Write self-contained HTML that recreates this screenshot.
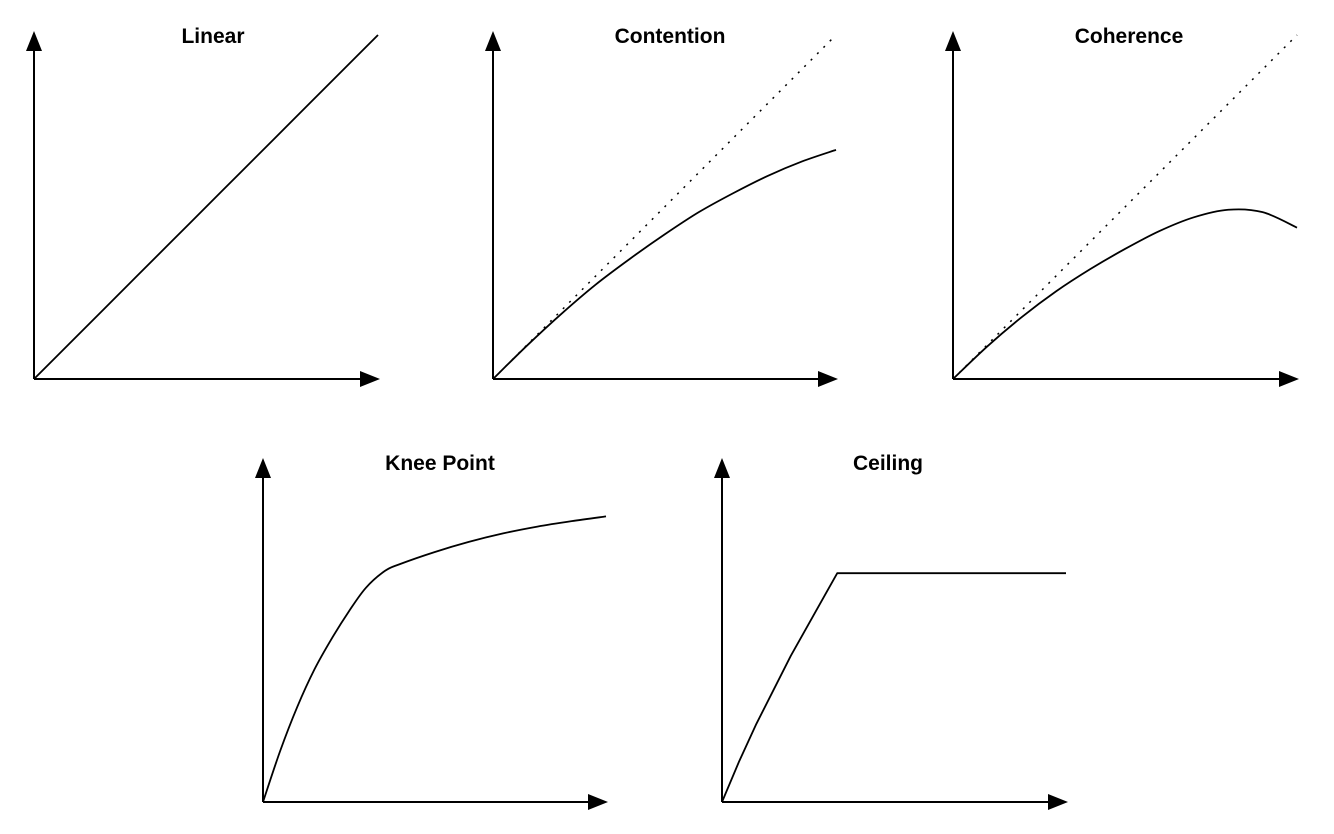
<!DOCTYPE html>
<html><head><meta charset="utf-8"><style>
html,body{margin:0;padding:0;background:#fff;}
svg{display:block;}
text{font-family:"Liberation Sans",sans-serif;font-weight:bold;font-size:21px;fill:#000;}
</style></head><body>
<svg id="chart" width="1334" height="834" viewBox="0 0 1334 834" xmlns="http://www.w3.org/2000/svg"></svg>
<script>
// data (unit coordinates: x fraction of axis width, y fraction of axis height)
const xs = [0,0.1,0.2,0.3,0.4,0.5,0.6,0.7,0.8,0.9,1];
const linearY = [0,0.1,0.2,0.3,0.4,0.5,0.6,0.7,0.8,0.9,1];
const contentionY = [0,0.098,0.19,0.275,0.35,0.42,0.485,0.54,0.59,0.632,0.666];
const coherenceY = [0,0.095,0.18,0.255,0.32,0.378,0.43,0.47,0.492,0.485,0.44];
const kneeX = [0,0.05,0.1,0.15,0.2,0.25,0.3,0.356,0.4,0.5,0.6,0.7,0.8,0.9,1];
const kneeY = [0,0.15,0.28,0.39,0.48,0.56,0.63,0.68,0.70,0.735,0.765,0.79,0.81,0.826,0.84];
const ceilX = [0,0.05,0.1,0.15,0.2,0.25,0.3,0.335,1];
const ceilY = [0,0.12,0.23,0.33,0.43,0.52,0.61,0.673,0.673];
const titles = ["Linear","Contention","Coherence","Knee Point","Ceiling"];

const NS="http://www.w3.org/2000/svg";
const svg=document.getElementById('chart');
function mk(tag,attrs,parent){const e=document.createElementNS(NS,tag);for(const k in attrs)e.setAttribute(k,attrs[k]);(parent||svg).appendChild(e);return e;}

const panels=[
 {name:'linear',ox:34,oy:379,w:344,h:344,tx:213,ty:43,series:[{x:xs,y:linearY,dash:false,smooth:true}]},
 {name:'contention',ox:493,oy:379,w:343,h:344,tx:670,ty:43,series:[{x:xs,y:linearY,dash:true,smooth:true},{x:xs,y:contentionY,dash:false,smooth:true}]},
 {name:'coherence',ox:953,oy:379,w:344,h:344,tx:1129,ty:43,series:[{x:xs,y:linearY,dash:true,smooth:true},{x:xs,y:coherenceY,dash:false,smooth:true}]},
 {name:'knee-point',ox:263,oy:802,w:343,h:340,tx:440,ty:470,series:[{x:kneeX,y:kneeY,dash:false,smooth:true}]},
 {name:'ceiling',ox:722,oy:802,w:344,h:340,tx:888,ty:470,series:[{x:ceilX,y:ceilY,dash:false,smooth:false}]}
];

panels.forEach((p,i)=>{
  const g=mk('g',{});
  
  
  const sx=v=>p.ox+v*p.w, sy=v=>p.oy-v*p.h;
  const t=mk('text',{x:p.tx,y:p.ty,'text-anchor':'middle'},g);
  t.textContent=titles[i];
  
  
  const ya=mk('line',{x1:p.ox,y1:p.oy,x2:p.ox,y2:p.oy-p.h+14,stroke:'#000','stroke-width':2},g);
  
  
  const yh=mk('polygon',{points:`${p.ox-8},${p.oy-p.h+16} ${p.ox+8},${p.oy-p.h+16} ${p.ox},${p.oy-p.h-4}`,fill:'#000'},g);
  
  
  const xa=mk('line',{x1:p.ox,y1:p.oy,x2:p.ox+p.w-14,y2:p.oy,stroke:'#000','stroke-width':2},g);
  
  
  const xh=mk('polygon',{points:`${p.ox+p.w-18},${p.oy-8} ${p.ox+p.w-18},${p.oy+8} ${p.ox+p.w+2},${p.oy}`,fill:'#000'},g);
  
  
  p.series.forEach((s,j)=>{
    let d='';
    const pts=s.x.map((v,k)=>[sx(v),sy(s.y[k])]);
    if(s.smooth){
      d='M'+pts[0][0]+','+pts[0][1];
      for(let k=0;k<pts.length-1;k++){
        const p0=pts[Math.max(0,k-1)],p1=pts[k],p2=pts[k+1],p3=pts[Math.min(pts.length-1,k+2)];
        const c1=[p1[0]+(p2[0]-p0[0])/6,p1[1]+(p2[1]-p0[1])/6];
        const c2=[p2[0]-(p3[0]-p1[0])/6,p2[1]-(p3[1]-p1[1])/6];
        d+=` C${c1[0]},${c1[1]} ${c2[0]},${c2[1]} ${p2[0]},${p2[1]}`;
      }
    } else {
      d=pts.map((q,k)=>(k?'L':'M')+q[0]+','+q[1]).join(' ');
    }
    const path=mk('path',{d:d,fill:'none',stroke:'#000','stroke-width':s.dash?1.5:1.8,'stroke-dasharray':s.dash?'2 7':'none','stroke-linejoin':'round'},g);
    
    
  });
});
</script>
</body></html>
